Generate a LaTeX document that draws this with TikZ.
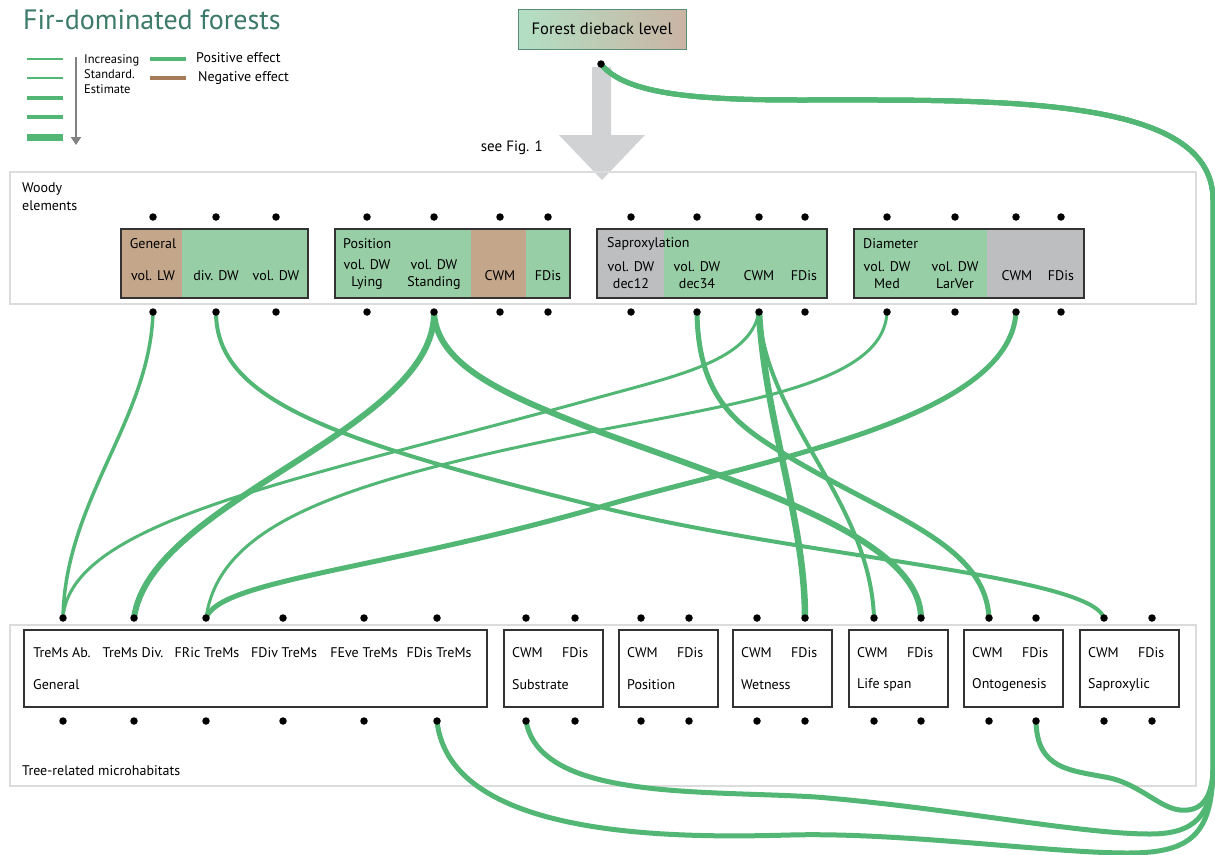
\documentclass[tikz,border=0pt]{standalone}
\usepackage{fontspec}
\setmainfont{PT Sans}
\usetikzlibrary{arrows.meta}
\pgfdeclarelayer{back}
\pgfdeclarelayer{conn}
\pgfsetlayers{back,conn,main}
\definecolor{posc}{RGB}{82,182,117}
\definecolor{negc}{RGB}{166,124,88}
\definecolor{gbox}{RGB}{152,206,166}
\definecolor{bbox}{RGB}{196,166,138}
\definecolor{ybox}{RGB}{189,190,192}
\definecolor{titlec}{RGB}{60,122,106}
\definecolor{fdleft}{RGB}{178,224,196}
\definecolor{fdright}{RGB}{202,180,164}
\definecolor{fdborder}{RGB}{90,140,120}
\definecolor{arrowgray}{RGB}{209,210,212}
\definecolor{panelc}{RGB}{220,220,220}
\definecolor{leggray}{RGB}{130,130,130}
\begin{document}
\begin{tikzpicture}[x=1pt,y=-1pt,
  dot/.style={circle,fill=black,inner sep=0pt,minimum size=7.5pt},
  lbl/.style={font=\fontsize{14}{17}\selectfont,align=center,inner sep=0pt},
  lbll/.style={lbl,anchor=west},
  panel/.style={draw=panelc,line width=1.3pt},
  boxborder/.style={draw=black!80,line width=1.3pt},
  conn/.style={draw=posc,line cap=round},
]
\useasboundingbox (0,0) rectangle (1215,854);
\begin{pgfonlayer}{back}
\fill[white] (0,0) rectangle (1215,854);
\end{pgfonlayer}

% title and legend
\node[anchor=west,text=titlec,font=\fontsize{28}{32}\selectfont,inner sep=0pt] (title) at (23,20) {Fir-dominated forests};
\draw[posc,line width=1.5pt] (27,59) -- (63,59);
\draw[posc,line width=2.5pt] (27,78) -- (63,78);
\draw[posc,line width=3.5pt] (27,98) -- (63,98);
\draw[posc,line width=4.5pt] (27,117) -- (63,117);
\draw[posc,line width=7pt] (27,137) -- (63,137);
\draw[leggray,line width=2.5pt,-{Triangle[length=8pt,width=10pt]}] (76,57) -- (76,145);
\node[anchor=west,align=left,inner sep=0pt,font=\fontsize{12.5}{15}\selectfont] (inc) at (84,74) {Increasing\\Standard.\\Estimate};
\draw[posc,line width=3.5pt] (150,59) -- (186,59);
\draw[negc,line width=3.5pt] (150,78) -- (186,78);
\node[anchor=west,inner sep=0pt,font=\fontsize{14}{16}\selectfont] (posl) at (196,58) {Positive effect};
\node[anchor=west,inner sep=0pt,font=\fontsize{14}{16}\selectfont] (negl) at (198,78) {Negative effect};

% forest dieback
\node[draw=fdborder,line width=1pt,left color=fdleft,right color=fdright,minimum width=168pt,minimum height=40pt,inner sep=0pt,font=\fontsize{16.5}{18}\selectfont] (fdl) at (602,29) {Forest dieback level};
\begin{pgfonlayer}{back}
\fill[arrowgray] (592,67) -- (611,67) -- (611,135) -- (645,135) -- (602,180) -- (559,135) -- (592,135) -- cycle;
\end{pgfonlayer}
\node[anchor=east,inner sep=0pt,font=\fontsize{15}{17}\selectfont] (see) at (543,148) {see Fig. 1};
\node[dot] (fd) at (601,64) {};

% panels
\begin{pgfonlayer}{back}
\draw[panel] (10,172) rectangle (1196,304);
\draw[panel] (10,625) rectangle (1196,786);
\end{pgfonlayer}
\node[anchor=west,align=left,inner sep=0pt,font=\fontsize{14}{18}\selectfont] (woody) at (22,197) {Woody\\elements};
\node[anchor=west,inner sep=0pt,font=\fontsize{14}{16}\selectfont] (trems) at (22,771) {Tree-related microhabitats};

% woody boxes
\fill[bbox] (121,229) rectangle (182,298);
\fill[gbox] (182,229) rectangle (308,298);
\draw[boxborder] (121,229) rectangle (308,298);
\fill[gbox] (335,229) rectangle (471,298);
\fill[bbox] (471,229) rectangle (526,298);
\fill[gbox] (526,229) rectangle (570,298);
\draw[boxborder] (335,229) rectangle (570,298);
\fill[ybox] (597,229) rectangle (664,298);
\fill[gbox] (664,229) rectangle (827,298);
\draw[boxborder] (597,229) rectangle (827,298);
\fill[gbox] (854,229) rectangle (987,298);
\fill[ybox] (987,229) rectangle (1084,298);
\draw[boxborder] (854,229) rectangle (1084,298);

\node[lbl] (gen) at (153,244) {General};
\node[lbll] (pos) at (343,244) {Position};
\node[lbll] (sap) at (607,244) {Saproxylation};
\node[lbll] (dia) at (863,244) {Diameter};
\node[lbl] (l1) at (153,276) {vol. LW};
\node[lbl] (l2) at (216,276) {div. DW};
\node[lbl] (l3) at (276,276) {vol. DW};
\node[lbl] (l4) at (367,275) {vol. DW\\Lying};
\node[lbl] (l5) at (434,275) {vol. DW\\Standing};
\node[lbl] (l6) at (500,276) {CWM};
\node[lbl] (l7) at (548,276) {FDis};
\node[lbl] (l8) at (631,275) {vol. DW\\dec12};
\node[lbl] (l9) at (697,275) {vol. DW\\dec34};
\node[lbl] (l10) at (759,276) {CWM};
\node[lbl] (l11) at (804,276) {FDis};
\node[lbl] (l12) at (887,275) {vol. DW\\Med};
\node[lbl] (l13) at (955,275) {vol. DW\\LarVer};
\node[lbl] (l14) at (1017,276) {CWM};
\node[lbl] (l15) at (1061,276) {FDis};

\foreach \x [count=\i] in {153,216,276,367,434,500,548,631,697,759,805,887,955,1016,1061} {
  \node[dot] (wa\i) at (\x,217) {};
  \node[dot] (wb\i) at (\x,312) {};
}

% TreMs boxes
\draw[boxborder] (24,630) rectangle (487,707);
\node[lbl] (t1) at (62,653) {TreMs Ab.};
\node[lbl] (t2) at (133,653) {TreMs Div.};
\node[lbl] (t3) at (207,653) {FRic TreMs};
\node[lbl] (t4) at (284,653) {FDiv TreMs};
\node[lbl] (t5) at (364,653) {FEve TreMs};
\node[lbl] (t6) at (439,653) {FDis TreMs};
\node[lbll] (t7) at (33,685) {General};
\foreach \l/\n [count=\i] in {504/Substrate,619/Position,733/Wetness,849/Life span,964/Ontogenesis,1080/Saproxylic} {
  \draw[boxborder] (\l,630) rectangle (\l+99,707);
  \node[lbll] (c\i) at (\l+8,653) {CWM};
  \node[lbll] (f\i) at (\l+58,653) {FDis};
  \node[lbll] (n\i) at (\l+8,685) {\n};
}
\foreach \x [count=\i] in {63,134,206,283,364,437,526,575,641,689,757,805,874,921,989,1036,1104,1152} {
  \node[dot] (ta\i) at (\x,618) {};
  \node[dot] (tb\i) at (\x,721) {};
}

% connectors
\begin{pgfonlayer}{conn}
\draw[conn,line width=3.5pt] (wb1.center) .. controls (150,420) and (65,500) .. (ta1.center);
\draw[conn,line width=4pt] (wb2.center) .. controls (216,400) and (330,440) .. (600,507) .. controls (800,557) and (1090,575) .. (ta17.center);
\draw[conn,line width=6pt] (wb5.center) .. controls (436,430) and (150,500) .. (ta2.center);
\draw[conn,line width=6pt] (wb5.center) .. controls (436,370) and (520,400) .. (600,432) .. controls (760,490) and (920,540) .. (ta14.center);
\draw[conn,line width=3pt] (wb10.center) .. controls (750,360) and (680,375) .. (600,397) .. controls (300,480) and (70,520) .. (ta1.center);
\draw[conn,line width=6.5pt] (wb10.center) .. controls (765,420) and (805,520) .. (ta12.center);
\draw[conn,line width=4pt] (wb10.center) .. controls (765,420) and (870,500) .. (ta13.center);
\draw[conn,line width=5pt] (wb9.center) .. controls (698,390) and (730,420) .. (773,447) .. controls (880,515) and (985,540) .. (ta15.center);
\draw[conn,line width=3pt] (wb12.center) .. controls (884,380) and (760,400) .. (600,430) .. controls (350,480) and (220,520) .. (ta3.center);
\draw[conn,line width=5pt] (wb14.center) .. controls (1010,420) and (760,460) .. (600,507) .. controls (380,570) and (220,580) .. (ta3.center);
% dieback
\draw[conn,line width=5pt] (fd.center) .. controls (625,95) and (700,100) .. (800,100) .. controls (1000,100) and (1213,95) .. (1213,200) -- (1213,770)
  .. controls (1212,800) and (1200,812) .. (1180,810) .. controls (1160,808) and (1140,785) .. (1110,778) .. controls (1070,770) and (1037,770) .. (tb16.center);
\draw[conn,line width=5pt] (fd.center) .. controls (625,95) and (700,100) .. (800,100) .. controls (1000,100) and (1213,95) .. (1213,200) -- (1213,770)
  .. controls (1212,815) and (1195,834) .. (1150,834) .. controls (1080,834) and (950,808) .. (816,797) .. controls (700,790) and (540,800) .. (tb7.center);
\draw[conn,line width=5pt] (fd.center) .. controls (625,95) and (700,100) .. (800,100) .. controls (1000,100) and (1213,95) .. (1213,200) -- (1213,770)
  .. controls (1212,835) and (1190,853) .. (1128,853) .. controls (1050,853) and (900,832) .. (790,835) .. controls (680,838) and (450,840) .. (tb6.center);
\end{pgfonlayer}
\end{tikzpicture}
\end{document}
